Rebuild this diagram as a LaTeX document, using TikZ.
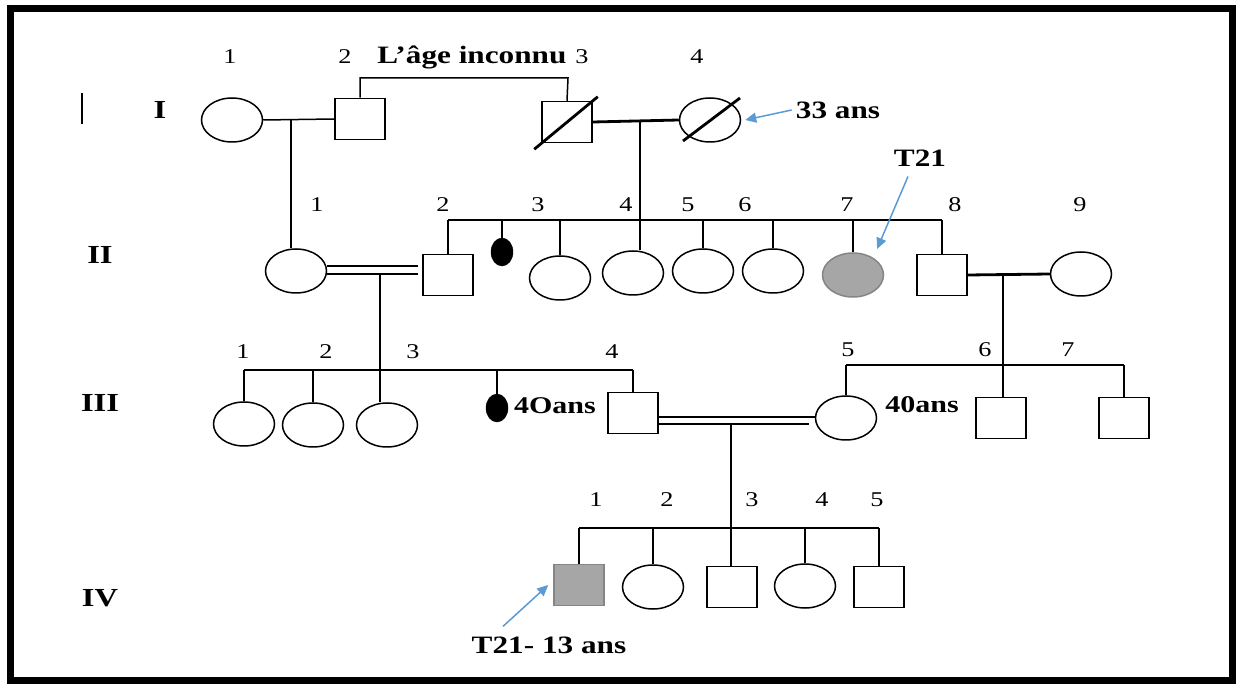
\documentclass[tikz,border=0pt]{standalone}
\usepackage{fontspec}
\setmainfont{Liberation Serif}[FakeStretch=1.25]
\usetikzlibrary{shapes.geometric,arrows.meta}
\definecolor{arrowblue}{RGB}{91,155,213}
\definecolor{affgrey}{RGB}{166,166,166}
\begin{document}
\begin{tikzpicture}[x=1pt,y=-1pt,
 ln/.style={line width=1.5pt},
 thk/.style={line width=2.8pt},
 male/.style={draw,line width=1.5pt,rectangle,minimum width=50pt,minimum height=41pt,inner sep=0pt},
 female/.style={draw,line width=1.5pt,ellipse,minimum width=61pt,minimum height=44pt,inner sep=0pt},
 smallfem/.style={draw,fill=black,ellipse,minimum width=22pt,minimum height=28pt,inner sep=0pt},
 num/.style={font=\fontsize{21}{23}\selectfont,inner sep=0pt},
 lab/.style={font=\fontsize{25}{28}\selectfont\bfseries,inner sep=0pt},
 gen/.style={font=\fontsize{26}{28}\selectfont\bfseries,inner sep=0pt},
 ptr/.style={draw=arrowblue,line width=1.5pt,-{Triangle[length=11pt,width=10pt]}},
 affected/.style={fill=affgrey,draw=affgrey!80!black}]
\useasboundingbox (0,0) rectangle (1243,684);
\fill[white] (0,0) rectangle (1243,684);
\draw[line width=7pt] (10,9) rectangle (1232,680);

% generation labels
\draw[line width=1.6pt] (82,93) -- (82,124);
\node[gen] (gI) at (160,110) {I};
\node[gen] (gII) at (100,255) {II};
\node[gen] (gIII) at (100,403) {III};
\node[gen] (gIV) at (100,598) {IV};

% ---------- generation I ----------
\node[female] (I1) at (232,120) {};
\node[male] (I2) at (360,119) {};
\node[male] (I3) at (567,122) {};
\node[female] (I4) at (710,120) {};
\draw[thk] ([shift={(-7,6)}]I3.south west) -- ([shift={(5,-4)}]I3.north east);
\draw[thk] (683,141) -- (740,98);

\node[num] (nI1) at (230,57) {1};
\node[num] (nI2) at (345,57) {2};
\node[lab] (age) at (472,57) {L’âge inconnu};
\node[num] (nI3) at (582,57) {3};
\node[num] (nI4) at (697,57) {4};

\coordinate (b2) at (568,78);
\draw[ln] (I2.north) |- (b2) -- (I3.north);

\draw[ln] (I1.east) -- (I2.west);
\coordinate (m1) at (291,120);
\draw[thk] (I3.east) -- (I4.west);
\coordinate (m2) at (640,121);

\node[lab] (a33) at (838,110) {33 ans};
\draw[ptr] ([shift={(-4,0)}]a33.west) -- ([shift={(4,0)}]I4.east);

% ---------- generation II ----------
\node[female] (II1) at (296,271) {};
\node[male] (II2) at (448,275) {};
\node[smallfem] (II2b) at (502,252) {};
\node[female] (II3) at (560,278) {};
\node[female] (II4) at (633,273) {};
\node[female] (II5) at (703,271) {};
\node[female] (II6) at (773,271) {};
\node[female,affected] (II7) at (853,275) {};
\node[male] (II8) at (942,275) {};
\node[female] (II9) at (1081,274) {};

\draw[thk] (m1) -- (m1 |- II1.north);
\draw[ln] (m2) -- (m2 |- II4.north);

\foreach \n in {II2,II2b,II3,II5,II6,II7,II8}
  \coordinate (s\n) at (\n.north |- 0,220);
\draw[ln] (sII2) -- (sII8);
\foreach \n in {II2,II2b,II3,II5,II6,II7,II8}
  \draw[ln] (s\n) -- (\n.north);

\node[num] at (317,205) {1};
\node[num] at (443,205) {2};
\node[num] at (538,205) {3};
\node[num] at (626,205) {4};
\node[num] at (688,205) {5};
\node[num] at (745,205) {6};
\node[num] at (847,205) {7};
\node[num] at (955,205) {8};
\node[num] at (1080,205) {9};

\node[lab] (t21) at (920,158) {T21};
\draw[ptr] ([shift={(-12,10)}]t21.south) -- ([shift={(2,-10)}]II7.north east);

\draw[ln] ([shift={(0,-5)}]II1.east) -- ([shift={(-4,-9)}]II2.west);
\draw[thk] ([shift={(0,3)}]II1.east) -- ([shift={(-4,-1)}]II2.west);
\coordinate (m3) at (380,274);

\draw[thk] (II8.east) -- (II9.west);
\coordinate (m4) at (1003,275);

% ---------- generation III ----------
\node[female] (III1) at (244,424) {};
\node[female] (III2) at (313,425) {};
\node[female] (III3) at (387,425) {};
\node[smallfem] (III3b) at (497,408) {};
\node[lab,font=\fontsize{24}{26}\selectfont\bfseries] (a40a) at (555,406) {4Oans};
\node[male] (III4) at (633,413) {};
\node[female] (III5) at (846,418) {};
\node[lab,font=\fontsize{24}{26}\selectfont\bfseries] (a40b) at (922,405) {40ans};
\node[male] (III6) at (1001,418) {};
\node[male] (III7) at (1124,418) {};

\draw[ln] (m3) -- (m3 |- III3.north);
\draw[ln] (m4) -- (m4 |- III6.north);

\foreach \n in {III1,III2,III3b,III4}
  \coordinate (s\n) at (\n.north |- 0,370);
\draw[ln] (sIII1) -- (sIII4);
\foreach \n in {III1,III2,III3b,III4}
  \draw[ln] (s\n) -- (\n.north);

\foreach \n in {III5,III7}
  \coordinate (s\n) at (\n.north |- 0,365);
\draw[ln] (sIII5) -- (sIII7);
\foreach \n in {III5,III7}
  \draw[ln] (s\n) -- (\n.north);

\node[num] at (243,352) {1};
\node[num] at (326,352) {2};
\node[num] at (413,352) {3};
\node[num] at (612,352) {4};
\node[num] at (848,350) {5};
\node[num] at (985,350) {6};
\node[num] at (1068,350) {7};

\draw[thk] ([shift={(0,4)}]III4.east) -- ([shift={(0,-1)}]III5.west);
\draw[ln] ([shift={(0,11)}]III4.east) -- ([shift={(-6,6)}]III5.west);
\coordinate (m5) at (731,424);

% ---------- generation IV ----------
\node[male,affected] (IV1) at (579,585) {};
\node[female] (IV2) at (653,587) {};
\node[male] (IV3) at (732,587) {};
\node[female] (IV4) at (805,586) {};
\node[male] (IV5) at (879,587) {};

\draw[ln] (m5) -- (m5 |- IV3.north);

\foreach \n in {IV1,IV2,IV4,IV5}
  \coordinate (s\n) at (\n.north |- 0,528);
\draw[ln] (sIV1) -- (sIV5);
\foreach \n in {IV1,IV2,IV4,IV5}
  \draw[ln] (s\n) -- (\n.north);

\node[num] at (596,500) {1};
\node[num] at (667,500) {2};
\node[num] at (752,500) {3};
\node[num] at (822,500) {4};
\node[num] at (877,500) {5};

\node[lab] (t21b) at (549,645) {T21- 13 ans};
\draw[ptr] ([shift={(-46,-10)}]t21b.north) -- ([shift={(-5,0)}]IV1.west);
\end{tikzpicture}
\end{document}
